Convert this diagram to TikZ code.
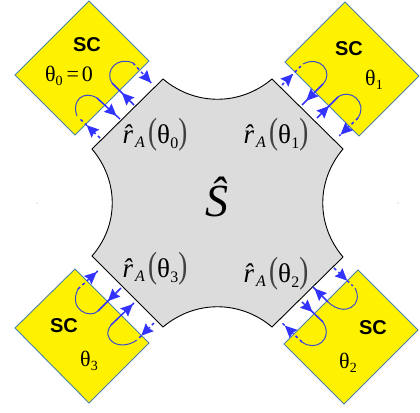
\documentclass[tikz,border=0pt]{standalone}
\usepackage{fontspec}
\setmainfont{Liberation Serif}
\setsansfont{Liberation Sans}
\usetikzlibrary{arrows.meta, decorations.markings}

\newcommand{\lowered}[3]{\raisebox{-#1pt}{\fontsize{#2}{#2}\selectfont #3}}
\newcommand{\tallparen}[1]{\textcolor{black!75}{\scalebox{1}[1.35]{#1}}}
\newcommand{\ramp}[1]{\textit{\^r}\kern-8pt\lowered{4}{16}{\textit{A}}\kern3pt\tallparen{(}θ\kern0.5pt\lowered{5}{16}{#1}\tallparen{)}}
\newcommand{\thetasub}[1]{θ\lowered{4}{14}{#1}}

\tikzset{
    scbox/.style={fill=yellow, draw=scedge, line width=0.9pt, line join=miter},
    sclabel/.style={font=\sffamily\bfseries\fontsize{20}{22}\selectfont},
    thetalabel/.style={font=\fontsize{22}{24}\selectfont},
    amplabel/.style={font=\fontsize{27}{30}\selectfont, anchor=base, inner sep=0pt},
    tipat/.style={postaction={decorate}, decoration={markings,
        mark=at position #1 with {\arrow{Stealth[length=12pt,width=11pt,inset=1.5pt]}}}},
    leadfull/.style={leadblue, line width=1.5pt},
    leaddash/.style={leadblue, line width=1.5pt, dash pattern=on 3pt off 3pt, shorten >=3pt},
    leadarc/.style={arcblue, line width=1pt},
}
\definecolor{scedge}{HTML}{4A80A8}
\definecolor{leadblue}{HTML}{3333FF}
\definecolor{arcblue}{HTML}{3A4CCC}
\definecolor{regiongray}{HTML}{DCDCDC}

\begin{document}
\begin{tikzpicture}[x=1pt, y=-1pt]
    \useasboundingbox (0,0) rectangle (420,412);

    % normal region
    \draw[fill=regiongray, line width=0.9pt, line join=miter]
        (163,79) .. controls (195,106) and (240,106) .. (272,79)
        -- (343,149) .. controls (316,181) and (316,225) .. (343,257)
        -- (272,327) .. controls (240,300) and (195,300) .. (163,327)
        -- (92,256) .. controls (119,225) and (119,181) .. (92,149) -- cycle;

    % superconductors
    \draw[scbox] (89,1) -- (149,61) -- (75,135) -- (15,75) -- cycle;
    \draw[scbox] (345,2) -- (419,76) -- (359,136) -- (285,62) -- cycle;
    \draw[scbox] (358,270) -- (418,330) -- (344,404) -- (284,344) -- cycle;
    \draw[scbox] (75,269) -- (149,343) -- (89,403) -- (15,328) -- cycle;

    % labels
    \node[sclabel] (sc0) at (87,45) {SC};
    \node[sclabel] (sc1) at (349,49) {SC};
    \node[sclabel] (sc2) at (373,328) {SC};
    \node[sclabel] (sc3) at (64,326) {SC};
    \node[thetalabel] (theta0) at (69,76) {\thetasub{0}\kern4pt=\kern3pt0};
    \node[thetalabel] (theta1) at (374,80) {\thetasub{1}};
    \node[thetalabel] (theta2) at (348,363) {\thetasub{2}};
    \node[thetalabel] (theta3) at (89,361) {\thetasub{3}};
    \node[amplabel] (amp0) at (155,143) {\ramp{0}};
    \node[amplabel] (amp1) at (276,143) {\ramp{1}};
    \node[amplabel] (amp2) at (276,282) {\ramp{2}};
    \node[amplabel] (amp3) at (155,277) {\ramp{3}};
    \node[font=\itshape\fontsize{46}{50}\selectfont] (shat) at (217,197) {Ŝ};

    % stray marks
    \fill[gray] (37,203) circle (0.5pt);
    \fill[gray] (398,203) circle (0.5pt);

    % lead 0
    \coordinate (a0) at (100,138); \coordinate (b0) at (77,116);
    \coordinate (c0) at (97,98);   \coordinate (d0) at (120,119);
    \draw[leaddash, tipat=.58] (a0) -- (b0);
    \draw[leadarc] (b0) .. controls (71,100) and (84,90) .. (c0);
    \draw[leadfull, tipat=.85] (c0) -- (d0);
    \coordinate (e0) at (134,105); \coordinate (f0) at (112,83);
    \coordinate (g0) at (133,63);  \coordinate (h0) at (154,86);
    \draw[leadfull, tipat=.55] (e0) -- (f0);
    \draw[leadarc] (f0) .. controls (104,70) and (118,56) .. (g0);
    \draw[leaddash, tipat=.86] (g0) -- (h0);

    % lead 1
    \coordinate (a1) at (282,85);  \coordinate (b1) at (303,64);
    \coordinate (c1) at (323,84);  \coordinate (d1) at (302,105);
    \draw[leaddash, tipat=.52] (a1) -- (b1);
    \draw[leadarc] (b1) .. controls (320,55) and (334,72) .. (c1);
    \draw[leadfull, tipat=.8] (c1) -- (d1);
    \coordinate (e1) at (317,118); \coordinate (f1) at (338,97);
    \coordinate (g1) at (358,118); \coordinate (h1) at (337,138);
    \draw[leadfull, tipat=.57] (e1) -- (f1);
    \draw[leadarc] (f1) .. controls (350,88) and (368,102) .. (g1);
    \draw[leaddash, tipat=.83] (g1) -- (h1);

    % lead 2
    \coordinate (a2) at (334,268); \coordinate (b2) at (355,288);
    \coordinate (c2) at (328,302); \coordinate (d2) at (313,287);
    \draw[leaddash, tipat=.63] (a2) -- (b2);
    \draw[leadarc] (b2) .. controls (364,305) and (345,318) .. (c2);
    \draw[leadfull, tipat=.9] (c2) -- (d2);
    \coordinate (e2) at (302,302); \coordinate (f2) at (323,322);
    \coordinate (g2) at (302,342); \coordinate (h2) at (280,321);
    \draw[leadfull, tipat=.5] (e2) -- (f2);
    \draw[leadarc] (f2) .. controls (334,340) and (315,352) .. (g2);
    \draw[leaddash, tipat=.78] (g2) -- (h2);

    % lead 3
    \coordinate (a3) at (121,288); \coordinate (b3) at (98,311);
    \coordinate (c3) at (78,289);  \coordinate (d3) at (100,269);
    \draw[leadfull, tipat=.57] (a3) -- (b3);
    \draw[leadarc] (b3) .. controls (90,319) and (68,310) .. (c3);
    \draw[leaddash, tipat=.85] (c3) -- (d3);
    \coordinate (e3) at (154,323); \coordinate (f3) at (137,340);
    \coordinate (g3) at (111,325); \coordinate (h3) at (134,303);
    \draw[leaddash, tipat=.75] (e3) -- (f3);
    \draw[leadarc] (f3) .. controls (120,352) and (100,340) .. (g3);
    \draw[leadfull, tipat=.95] (g3) -- (h3);
\end{tikzpicture}
\end{document}
